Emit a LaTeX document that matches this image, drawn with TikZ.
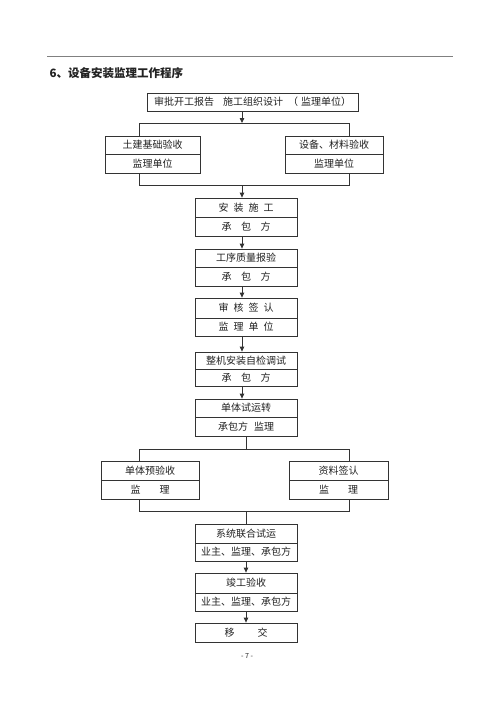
\documentclass[tikz,border=0pt]{standalone}
\usepackage{fontspec}
\setmainfont{Noto Sans CJK SC}
\usetikzlibrary{arrows.meta}
\newcommand\hsp[1]{\hspace{#1pt}}
\definecolor{linec}{HTML}{333333}
\definecolor{textc}{HTML}{222222}
\begin{document}
\begin{tikzpicture}[x=1pt,y=-1pt,
  cell/.style={draw=linec, line width=0.8pt, inner sep=0pt, font=\fontsize{10}{11}\selectfont, text=textc},
  arr/.style={draw=linec, line width=0.8pt, -{Triangle[length=5pt,width=4.5pt]}},
  ln/.style={draw=linec, line width=0.8pt}]
\useasboundingbox (0,0) rectangle (500,707);
\fill[white] (0,0) rectangle (500,707);
% top rule
\coordinate (r1) at (47,56);
\coordinate (r2) at (453,56);
\draw[gray, line width=0.8pt] (r1) -- (r2);
\node[anchor=west, font=\fontsize{11.5}{12}\selectfont\bfseries, text=textc] (title) at (46,73) {6、设备安装监理工作程序};
% boxes
\node[cell, minimum width=211, minimum height=18] (b0) at (252.5,102) {审批开工报告\hsp{9}施工组织设计\hsp{5}（\hsp{3}监理单位）};
\node[cell, minimum width=95, minimum height=18] (L1a) at (152.5,145) {土建基础验收};
\node[cell, minimum width=95, minimum height=19] (L1b) at (152.5,163.5) {监理单位};
\node[cell, minimum width=98, minimum height=18] (R1a) at (334,145) {设备、材料验收};
\node[cell, minimum width=98, minimum height=19] (R1b) at (334,163.5) {监理单位};
\node[cell, minimum width=102, minimum height=19] (s1a) at (246,207.5) {安\hsp{5}装\hsp{5}施\hsp{5}工};
\node[cell, minimum width=102, minimum height=19] (s1b) at (246,226.5) {承\hsp{9.5}包\hsp{9.5}方};
\node[cell, minimum width=102, minimum height=18] (s2a) at (246,258) {工序质量报验};
\node[cell, minimum width=102, minimum height=19] (s2b) at (246,276.5) {承\hsp{9.5}包\hsp{9.5}方};
\node[cell, minimum width=102, minimum height=20] (s3a) at (246,308) {审\hsp{5}核\hsp{5}签\hsp{5}认};
\node[cell, minimum width=102, minimum height=18] (s3b) at (246,327) {监\hsp{5}理\hsp{5}单\hsp{5}位};
\node[cell, minimum width=102, minimum height=17] (s4a) at (246,360.5) {整机安装自检调试};
\node[cell, minimum width=102, minimum height=17] (s4b) at (246,377.5) {承\hsp{9.5}包\hsp{9.5}方};
\node[cell, minimum width=102, minimum height=18] (s5a) at (246,408) {单体试运转};
\node[cell, minimum width=102, minimum height=19] (s5b) at (246,426.5) {承包方\hsp{6}监理};
\node[cell, minimum width=98, minimum height=19] (L2a) at (150,470.5) {单体预验收};
\node[cell, minimum width=98, minimum height=19] (L2b) at (150,489.5) {监\hsp{19}理};
\node[cell, minimum width=99, minimum height=19] (R2a) at (338.5,470.5) {资料签认};
\node[cell, minimum width=99, minimum height=19] (R2b) at (338.5,489.5) {监\hsp{19}理};
\node[cell, minimum width=102, minimum height=19] (s6a) at (246,533.5) {系统联合试运};
\node[cell, minimum width=102, minimum height=18] (s6b) at (246,552) {业主、监理、承包方};
\node[cell, minimum width=102, minimum height=20] (s7a) at (246,583) {竣工验收};
\node[cell, minimum width=102, minimum height=18] (s7b) at (246,602) {业主、监理、承包方};
\node[cell, minimum width=102, minimum height=19] (s8) at (246,632.5) {移\hsp{23}交};
\node[font=\fontsize{7}{8}\selectfont, text=textc] (pg) at (247,656) {- 7 -};
% junctions
\coordinate (j1) at (242,123);
\coordinate (jL1) at (139,123);
\coordinate (jR1) at (349,123);
\coordinate (k1) at (242,185);
\coordinate (kL1) at (139,185);
\coordinate (kR1) at (349,185);
\coordinate (j2) at (246,449);
\coordinate (jL2) at (139,449);
\coordinate (jR2) at (349,449);
\coordinate (k2) at (246,511);
\coordinate (kL2) at (139,511);
\coordinate (kR2) at (349,511);
% connectors
\draw[arr] (b0.south -| j1) -- (j1);
\draw[ln] (jL1 |- L1a.north) -- (jL1) -- (jR1) -- (jR1 |- R1a.north);
\draw[ln] (kL1 |- L1b.south) -- (kL1) -- (kR1) -- (kR1 |- R1b.south);
\draw[arr] (k1) -- (k1 |- s1a.north);
\draw[arr] (s1b.south -| j1) -- (s2a.north -| j1);
\draw[arr] (s2b.south -| j1) -- (s3a.north -| j1);
\draw[arr] (s3b.south -| j1) -- (s4a.north -| j1);
\draw[arr] (s4b.south -| j1) -- (s5a.north -| j1);
\draw[ln] (s5b.south -| j2) -- (j2);
\draw[ln] (jL2 |- L2a.north) -- (jL2) -- (jR2) -- (jR2 |- R2a.north);
\draw[ln] (kL2 |- L2b.south) -- (kL2) -- (kR2) -- (kR2 |- R2b.south);
\draw[ln] (k2) -- (k2 |- s6a.north);
\draw[arr] (s6b.south) -- (s7a.north);
\draw[arr] (s7b.south) -- (s8.north);
\end{tikzpicture}
\end{document}
